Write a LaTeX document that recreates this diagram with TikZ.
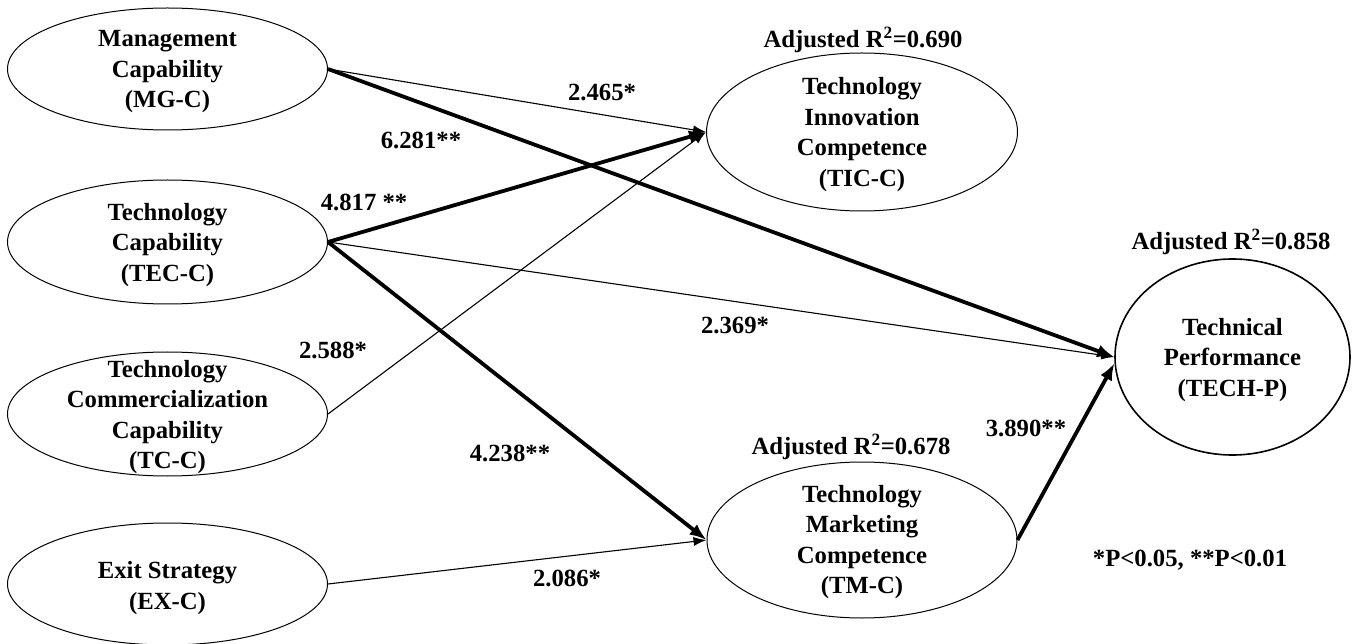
\documentclass[tikz,border=0pt]{standalone}
\usepackage{fontspec}
\setmainfont{Liberation Serif}
\usetikzlibrary{shapes.geometric,arrows.meta}
\begin{document}
\begin{tikzpicture}[x=1pt,y=-1pt,
  ell/.style={draw, ellipse, line width=1pt, inner sep=0pt},
  txt/.style={font=\bfseries\fontsize{24.7}{30.5}\selectfont, align=center, inner sep=0pt},
  lab/.style={font=\bfseries\fontsize{24.7}{30}\selectfont, inner sep=0pt},
  thinarrow/.style={line width=1.1pt, -{Latex[length=13pt,width=9pt]}},
  thickarrow/.style={line width=3.8pt, -{Latex[length=17pt,width=13pt]}}]
\useasboundingbox (0,0) rectangle (1353,644);
% left constructs
\node[ell, minimum width=320pt, minimum height=122pt] (mg) at (167.5,69) {};
\node[txt] (mgt) at (167.5,72) {Management\\Capability\\(MG-C)};
\node[ell, minimum width=320pt, minimum height=124pt] (tec) at (167.5,242) {};
\node[txt] (tect) at (167.5,245) {Technology\\Capability\\(TEC-C)};
\node[ell, minimum width=320pt, minimum height=124pt] (tc) at (167.5,414) {};
\node[txt] (tct) at (167.5,417) {Technology\\Commercialization\\Capability\\(TC-C)};
\node[ell, minimum width=320pt, minimum height=122pt] (ex) at (167.5,584) {};
\node[txt] (ext) at (167.5,588) {Exit Strategy\\(EX-C)};
% middle constructs
\node[ell, minimum width=311pt, minimum height=158pt] (tic) at (862,132) {};
\node[txt] (tict) at (862,134.5) {Technology\\Innovation\\Competence\\(TIC-C)};
\node[ell, minimum width=310pt, minimum height=156pt] (tm) at (862,540) {};
\node[txt] (tmt) at (862,542) {Technology\\Marketing\\Competence\\(TM-C)};
% outcome
\node[ell, line width=1.6pt, minimum width=235pt, minimum height=196pt] (tp) at (1232.5,357) {};
\node[txt] (tpt) at (1232.5,360) {Technical\\Performance\\(TECH-P)};
% R2 labels
\node[lab] (r1) at (863,40) {Adjusted R\textsuperscript{2}=0.690};
\node[lab] (r2) at (851,447) {Adjusted R\textsuperscript{2}=0.678};
\node[lab] (r3) at (1231,242) {Adjusted R\textsuperscript{2}=0.858};
% paths
\draw[thinarrow] (mg.east) -- (tic.west);
\draw[thickarrow] (mg.east) -- (tp.west);
\draw[thickarrow] (tec.east) -- (tic.west);
\draw[thinarrow] (tec.east) -- (tp.west);
\draw[thickarrow] (tec.east) -- (tm.west);
\draw[thinarrow] (tc.east) -- (tic.west);
\draw[thinarrow] (ex.east) -- (tm.west);
\draw[thickarrow] (tm.east) -- (tp.183);
% coefficient labels
\node[lab] (c1) at (602,93) {2.465*};
\node[lab] (c2) at (421,140) {6.281**};
\node[lab] (c3) at (364,202) {4.817 **};
\node[lab] (c4) at (735,325) {2.369*};
\node[lab] (c5) at (333,350) {2.588*};
\node[lab] (c6) at (510,453) {4.238**};
\node[lab] (c7) at (567,578) {2.086*};
\node[lab] (c8) at (1026,428) {3.890**};
\node[lab] (note) at (1190,560) {*P<0.05, **P<0.01};
\end{tikzpicture}
\end{document}
